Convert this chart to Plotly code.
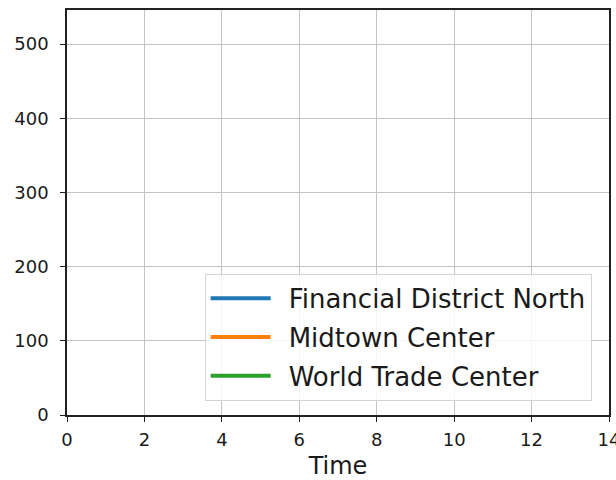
import plotly.graph_objects as go

# Station series: a single empty slot each, nothing recorded yet
time = [None]
financial_district_north = [None]
midtown_center = [None]
world_trade_center = [None]

series_names = ["Financial District North", "Midtown Center", "World Trade Center"]
series_values = [financial_district_north, midtown_center, world_trade_center]
series_colors = ["#1f77b4", "#ff7f0e", "#2ca02c"]

x_ticks = [0, 2, 4, 6, 8, 10, 12, 14]
y_ticks = [0, 100, 200, 300, 400, 500]

fig = go.Figure()
for i, (name, vals, color) in enumerate(zip(series_names, series_values, series_colors)):
    fig.add_trace(go.Scatter(
        x=time, y=vals, mode="lines",
        name="\u2002" + name,  # en space keeps the label clear of the handle
        line=dict(color=color, width=4),
        legendgroup=f"g{i}",
    ))

axis_common = dict(
    showline=True, linecolor="#222", linewidth=1.6, mirror=True,
    showgrid=True, gridcolor="#c4c4c4", gridwidth=1.4,
    ticks="outside", ticklen=5, tickwidth=1.4, tickcolor="#222",
    tickfont=dict(family="DejaVu Sans", size=18, color="#1a1a1a"),
    ticklabeloverflow="allow",
    zeroline=False,
    automargin=False,
)

fig.update_layout(
    width=616, height=480,
    margin=dict(l=67, r=7, t=10, b=65),
    paper_bgcolor="white", plot_bgcolor="white",
    font=dict(family="DejaVu Sans", color="#1a1a1a"),
    xaxis=dict(range=[0, 14], tickvals=x_ticks, ticklabelstandoff=3,
               title=dict(text="Time", font=dict(size=24), standoff=10),
               **axis_common),
    yaxis=dict(range=[0, 546], tickvals=y_ticks, ticklabelstandoff=8,
               **axis_common),
    showlegend=True,
    legend=dict(
        x=0.968, y=0.035, xanchor="right", yanchor="bottom",
        bgcolor="rgba(255,255,255,0.85)", bordercolor="#d4d4d4", borderwidth=1,
        font=dict(family="DejaVu Sans", size=26, color="#1a1a1a"),
        itemwidth=60, traceorder="grouped", tracegroupgap=2,
    ),
)

fig.write_html("out.html")
